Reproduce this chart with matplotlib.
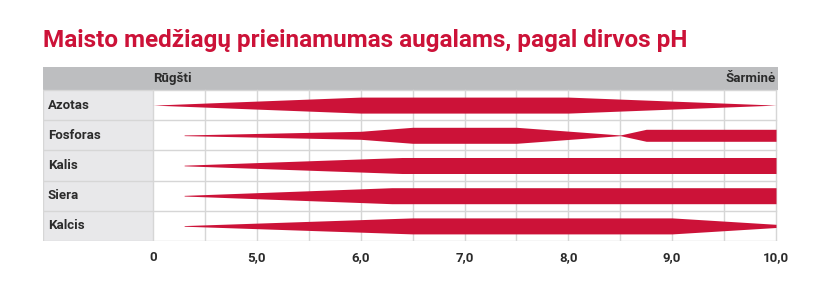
import matplotlib.pyplot as plt
from matplotlib.patches import Rectangle
import numpy as np

plt.rcParams['font.family'] = ['Roboto', 'DejaVu Sans']

# Colours
red = '#cc1238'
header_color = '#bdbec0'
label_bg = '#e8e8ea'
grid_color = '#d6d6d6'
text_color = '#2b2b2b'

title = "Maisto medžiagų prieinamumas augalams, pagal dirvos pH"
header_left = "Rūgšti"
header_right = "Šarminė"
nutrients = ["Azotas", "Fosforas", "Kalis", "Siera", "Kalcis"]

# pH breakpoints and relative availability (1 = full band width)
azotas_ph = [4.0, 6.0, 8.0, 10.0]
azotas_av = [0.0, 1.0, 1.0, 0.0]
fosforas_ph = [4.3, 6.0, 6.5, 7.5, 8.5, 8.75, 10.0]
fosforas_av = [0.04, 0.5, 1.0, 1.0, 0.04, 0.75, 0.75]
kalis_ph = [4.3, 6.4, 10.0]
kalis_av = [0.04, 1.0, 1.0]
siera_ph = [4.3, 6.3, 10.0]
siera_av = [0.04, 1.0, 1.0]
kalcis_ph = [4.3, 6.5, 9.0, 10.0]
kalcis_av = [0.04, 1.0, 1.0, 0.2]

ph_ticks = [4, 5, 6, 7, 8, 9, 10]
ph_labels = ["0", "5,0", "6,0", "7,0", "8,0", "9,0", "10,0"]

series = [(azotas_ph, azotas_av), (fosforas_ph, fosforas_av),
          (kalis_ph, kalis_av), (siera_ph, siera_av), (kalcis_ph, kalcis_av)]

# Layout (pixels in a 820x282 figure)
W, H = 820, 282
left_px, right_px = 43, 778
top_px, rows_top_px, bottom_px = 67, 90, 241
px_per_ph = (776 - 153) / 6.0
x0 = 4.0 - (153 - left_px) / px_per_ph
x1 = 4.0 + (right_px - 153) / px_per_ph
row_h = (bottom_px - rows_top_px) / 5.0
head_h = (rows_top_px - top_px) / row_h
half = 0.265

fig = plt.figure(figsize=(W / 100, H / 100), dpi=100)
ax = fig.add_axes([left_px / W, 1 - bottom_px / H,
                   (right_px - left_px) / W, (bottom_px - top_px) / H])
ax.set_xlim(x0, x1)
ax.set_ylim(5, -head_h)

ax.add_patch(Rectangle((x0, -head_h), x1 - x0, head_h, color=header_color, lw=0))
ax.add_patch(Rectangle((x0, 0), 4.0 - x0, 5, color=label_bg, lw=0))

for v in np.arange(4.0, 10.01, 0.5):
    ax.plot([v, v], [0, 5], color=grid_color, lw=1, zorder=1)
for r in range(6):
    ax.plot([x0, 10.0], [r, r], color=grid_color, lw=1, zorder=1)
ax.plot([x0, x0], [0, 5], color=grid_color, lw=1, zorder=1)

for i, (ph, av) in enumerate(series):
    ph = np.array(ph)
    h = half * np.array(av)
    y = i + 0.5
    ax.fill_between(ph, y - h, y + h, color=red, lw=0, zorder=3)
    ax.text(x0 + 5 / px_per_ph, y, nutrients[i], va='center', ha='left',
            fontsize=9.5, fontweight='bold', color=text_color)

ax.text(4.0, -head_h / 2, header_left, va='center', ha='left',
        fontsize=9.5, fontweight='bold', color=text_color)
ax.text(10.0, -head_h / 2, header_right, va='center', ha='right',
        fontsize=9.5, fontweight='bold', color=text_color)

ax.set_xticks(ph_ticks, ph_labels)
ax.set_yticks([])
ax.tick_params(axis='x', length=0, pad=7, labelsize=9.5, colors=text_color)
for lbl in ax.get_xticklabels():
    lbl.set_fontweight('bold')
for s in ax.spines.values():
    s.set_visible(False)

fig.text(left_px / W, 1 - 47 / H, title, color=red, fontsize=17.5,
         fontweight='bold', va='baseline', ha='left')

fig.savefig('out.png', dpi=100)
